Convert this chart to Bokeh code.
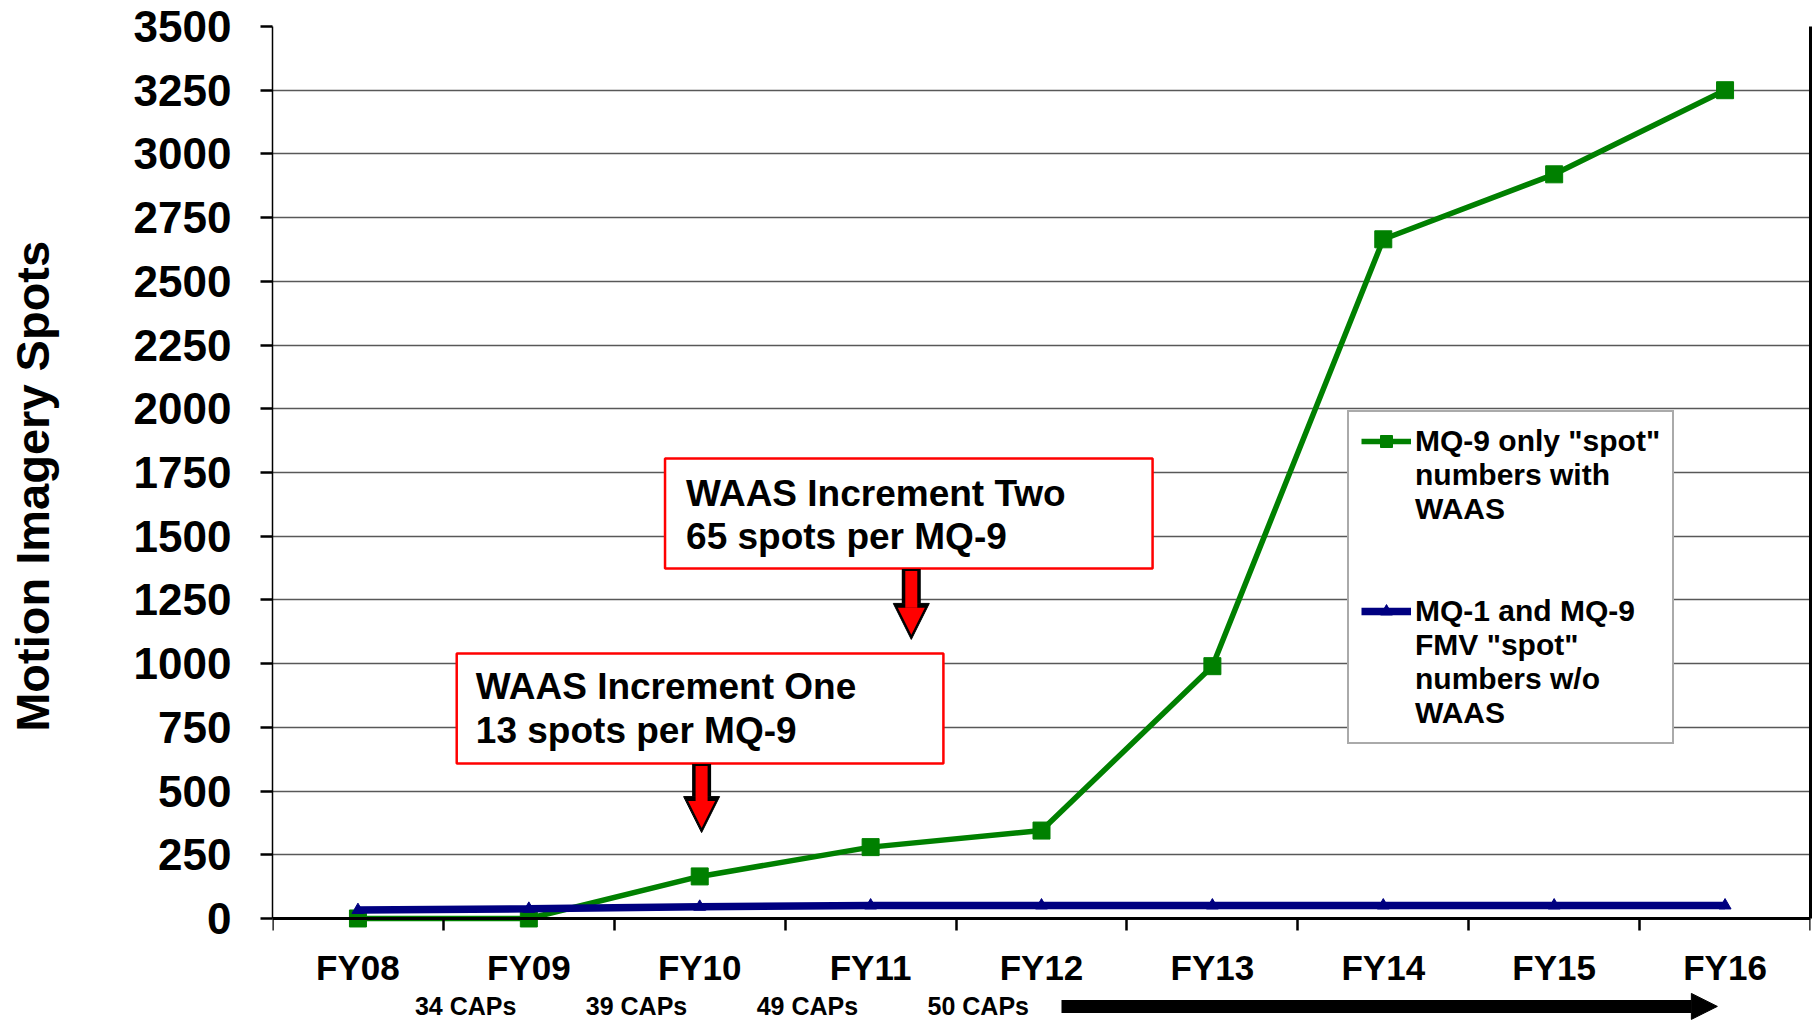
from bokeh.plotting import figure
from bokeh.models import (FactorRange, Range1d, LinearAxis, CategoricalAxis, FixedTicker,
                          CustomJSTickFormatter, Legend, LegendItem, BoxAnnotation, Label,
                          Arrow, NormalHead)
from bokeh.embed import file_html
from bokeh.resources import INLINE

# ---------------- data ----------------
years = ["FY08", "FY09", "FY10", "FY11", "FY12", "FY13", "FY14", "FY15", "FY16"]
mq9_with_waas = [0, 0, 165, 280, 345, 990, 2665, 2920, 3250]
fmv_without_waas = [33, 38, 46, 51, 51, 51, 51, 51, 51]
y_ticks = [0, 250, 500, 750, 1000, 1250, 1500, 1750, 2000, 2250, 2500, 2750, 3000, 3250, 3500]
caps_labels = ["34 CAPs", "39 CAPs", "49 CAPs", "50 CAPs"]
series_first_lines = ['MQ-9 only "spot"', 'MQ-1 and MQ-9']
series_more_lines = ['numbers with\nWAAS\n \n ', 'FMV "spot"\nnumbers w/o\nWAAS']
callout_one = ["WAAS Increment One", "13 spots per MQ-9"]
callout_two = ["WAAS Increment Two", "65 spots per MQ-9"]
y_title = "Motion Imagery Spots"

FONT = "Liberation Sans"
GREEN = "#008000"
NAVY = "#000080"

W, H = 1816, 1024
p = figure(width=W, height=H,
           x_range=FactorRange(*years), y_range=Range1d(-416, 3500),
           output_backend="svg", toolbar_location=None,
           x_axis_location=None, y_axis_location="left",
           min_border_left=272, min_border_right=6, min_border_top=26, min_border_bottom=0,
           outline_line_color=None, background_fill_color="white", border_fill_color="white")

# y axis
ya = p.yaxis[0]
ya.bounds = (0, 3500)
ya.ticker = FixedTicker(ticks=y_ticks, minor_ticks=[])
ya.axis_line_color = "black"
ya.axis_line_width = 1.5
ya.major_tick_out = 12
ya.major_tick_in = 0
ya.major_tick_line_width = 2.5
ya.minor_tick_line_color = None
ya.major_label_text_font = FONT
ya.major_label_text_font_size = "44px"
ya.major_label_text_font_style = "bold"
ya.major_label_text_color = "black"
ya.major_label_standoff = 29
# leading no-break spaces lift the title so it is centred on the 0-3500 span
ya.axis_label = "\u00a0" * 6 + y_title
ya.axis_label_text_font = FONT
ya.axis_label_text_font_size = "47px"
ya.axis_label_text_font_style = "bold"
ya.axis_label_text_color = "black"
ya.axis_label_standoff = 72

for g in p.ygrid:
    g.ticker = FixedTicker(ticks=y_ticks, minor_ticks=[])
    g.grid_line_color = "#585858"
    g.grid_line_width = 1.5
for g in p.xgrid:
    g.visible = False

# x axis at y=0: boundary ticks (between categories) + category labels
ax_b = LinearAxis(ticker=FixedTicker(ticks=list(range(len(years) + 1)), minor_ticks=[]),
                  formatter=CustomJSTickFormatter(code="return ''"),
                  fixed_location=0,
                  axis_line_color="black", axis_line_width=3,
                  major_tick_out=12, major_tick_in=0, major_tick_line_width=2.5,
                  minor_tick_line_color=None,
                  major_label_text_font_size="1px", major_label_standoff=0)
p.add_layout(ax_b, "below")
ax_c = CategoricalAxis(fixed_location=0, axis_line_color=None, major_tick_line_color=None,
                       major_tick_out=0, major_tick_in=0,
                       major_label_text_font=FONT, major_label_text_font_size="35px",
                       major_label_text_font_style="bold", major_label_text_color="black",
                       major_label_standoff=30)
p.add_layout(ax_c, "below")

# right border
ax_r = LinearAxis(ticker=FixedTicker(ticks=[], minor_ticks=[]), bounds=(0, 3500),
                  formatter=CustomJSTickFormatter(code="return ''"),
                  axis_line_color="black", axis_line_width=3,
                  major_tick_out=0, major_tick_in=0, minor_tick_out=0, minor_tick_in=0,
                  major_label_text_font_size="1px", major_label_standoff=0)
p.add_layout(ax_r, "right")

# series
g_line = p.line(years, mq9_with_waas, line_color=GREEN, line_width=5.5)
g_pts = p.scatter(years, mq9_with_waas, marker="square", size=17,
                  fill_color=GREEN, line_color=GREEN)
b_line = p.line(years, fmv_without_waas, line_color=NAVY, line_width=7.5)
b_pts = p.scatter(years, fmv_without_waas, marker="triangle", size=12,
                  fill_color=NAVY, line_color=NAVY)

legend = Legend(items=[LegendItem(label=series_first_lines[0], renderers=[g_line, g_pts]),
                       LegendItem(label=series_more_lines[0], renderers=[]),
                       LegendItem(label=series_first_lines[1], renderers=[b_line, b_pts]),
                       LegendItem(label=series_more_lines[1], renderers=[])],
                location=(1075, H - 744), margin=0, padding=12, spacing=0,
                label_text_font=FONT, label_text_font_size="30px",
                label_text_font_style="bold", label_text_color="black",
                label_text_line_height=1.16,
                glyph_width=50, glyph_height=30, label_standoff=4,
                border_line_color="#555555", border_line_width=2,
                background_fill_color="white", background_fill_alpha=1)
p.add_layout(legend)

# callout boxes (x in category-index units: 0 = left edge, 9 = right edge)
def callout(left, right, bottom, top, lines, text_x, text_ys):
    p.add_layout(BoxAnnotation(left=left, right=right, bottom=bottom, top=top,
                               fill_color="white", fill_alpha=1,
                               line_color="#ff0000", line_width=2.5, line_alpha=1))
    for t, ty in zip(lines, text_ys):
        p.add_layout(Label(x=text_x, y=ty, text=t,
                           text_font=FONT, text_font_size="37px", text_font_style="bold",
                           text_color="black", text_baseline="middle", text_align="left"))

def red_arrow(x, y0, y1):
    p.add_layout(Arrow(x_start=x, y_start=y0, x_end=x, y_end=y1,
                       line_color="black", line_width=19,
                       end=NormalHead(size=36, fill_color="black", line_color="black", line_width=1)))
    p.add_layout(Arrow(x_start=x, y_start=y0 - 8, x_end=x, y_end=y1 + 18,
                       line_color="#ff0000", line_width=12,
                       end=NormalHead(size=27, fill_color="#ff0000", line_color=None)))

callout(1.078, 3.926, 608, 1040, callout_one, 1.19, [910, 738])
callout(2.297, 5.150, 1373, 1805, callout_two, 2.42, [1669, 1497])
red_arrow(2.511, 606, 337)
red_arrow(3.738, 1371, 1095)

# CAPs row
for i, t in enumerate(caps_labels):
    p.add_layout(Label(x=i + 1.13, y=-345, text=t,
                       text_font=FONT, text_font_size="25px", text_font_style="bold",
                       text_color="black", text_align="center", text_baseline="middle"))
p.add_layout(Arrow(x_start=4.617, y_start=-345, x_end=8.455, y_end=-345,
                   line_color="black", line_width=13,
                   end=NormalHead(size=26, fill_color="black", line_color="black")))

open("out.html", "w").write(file_html(p, INLINE))
